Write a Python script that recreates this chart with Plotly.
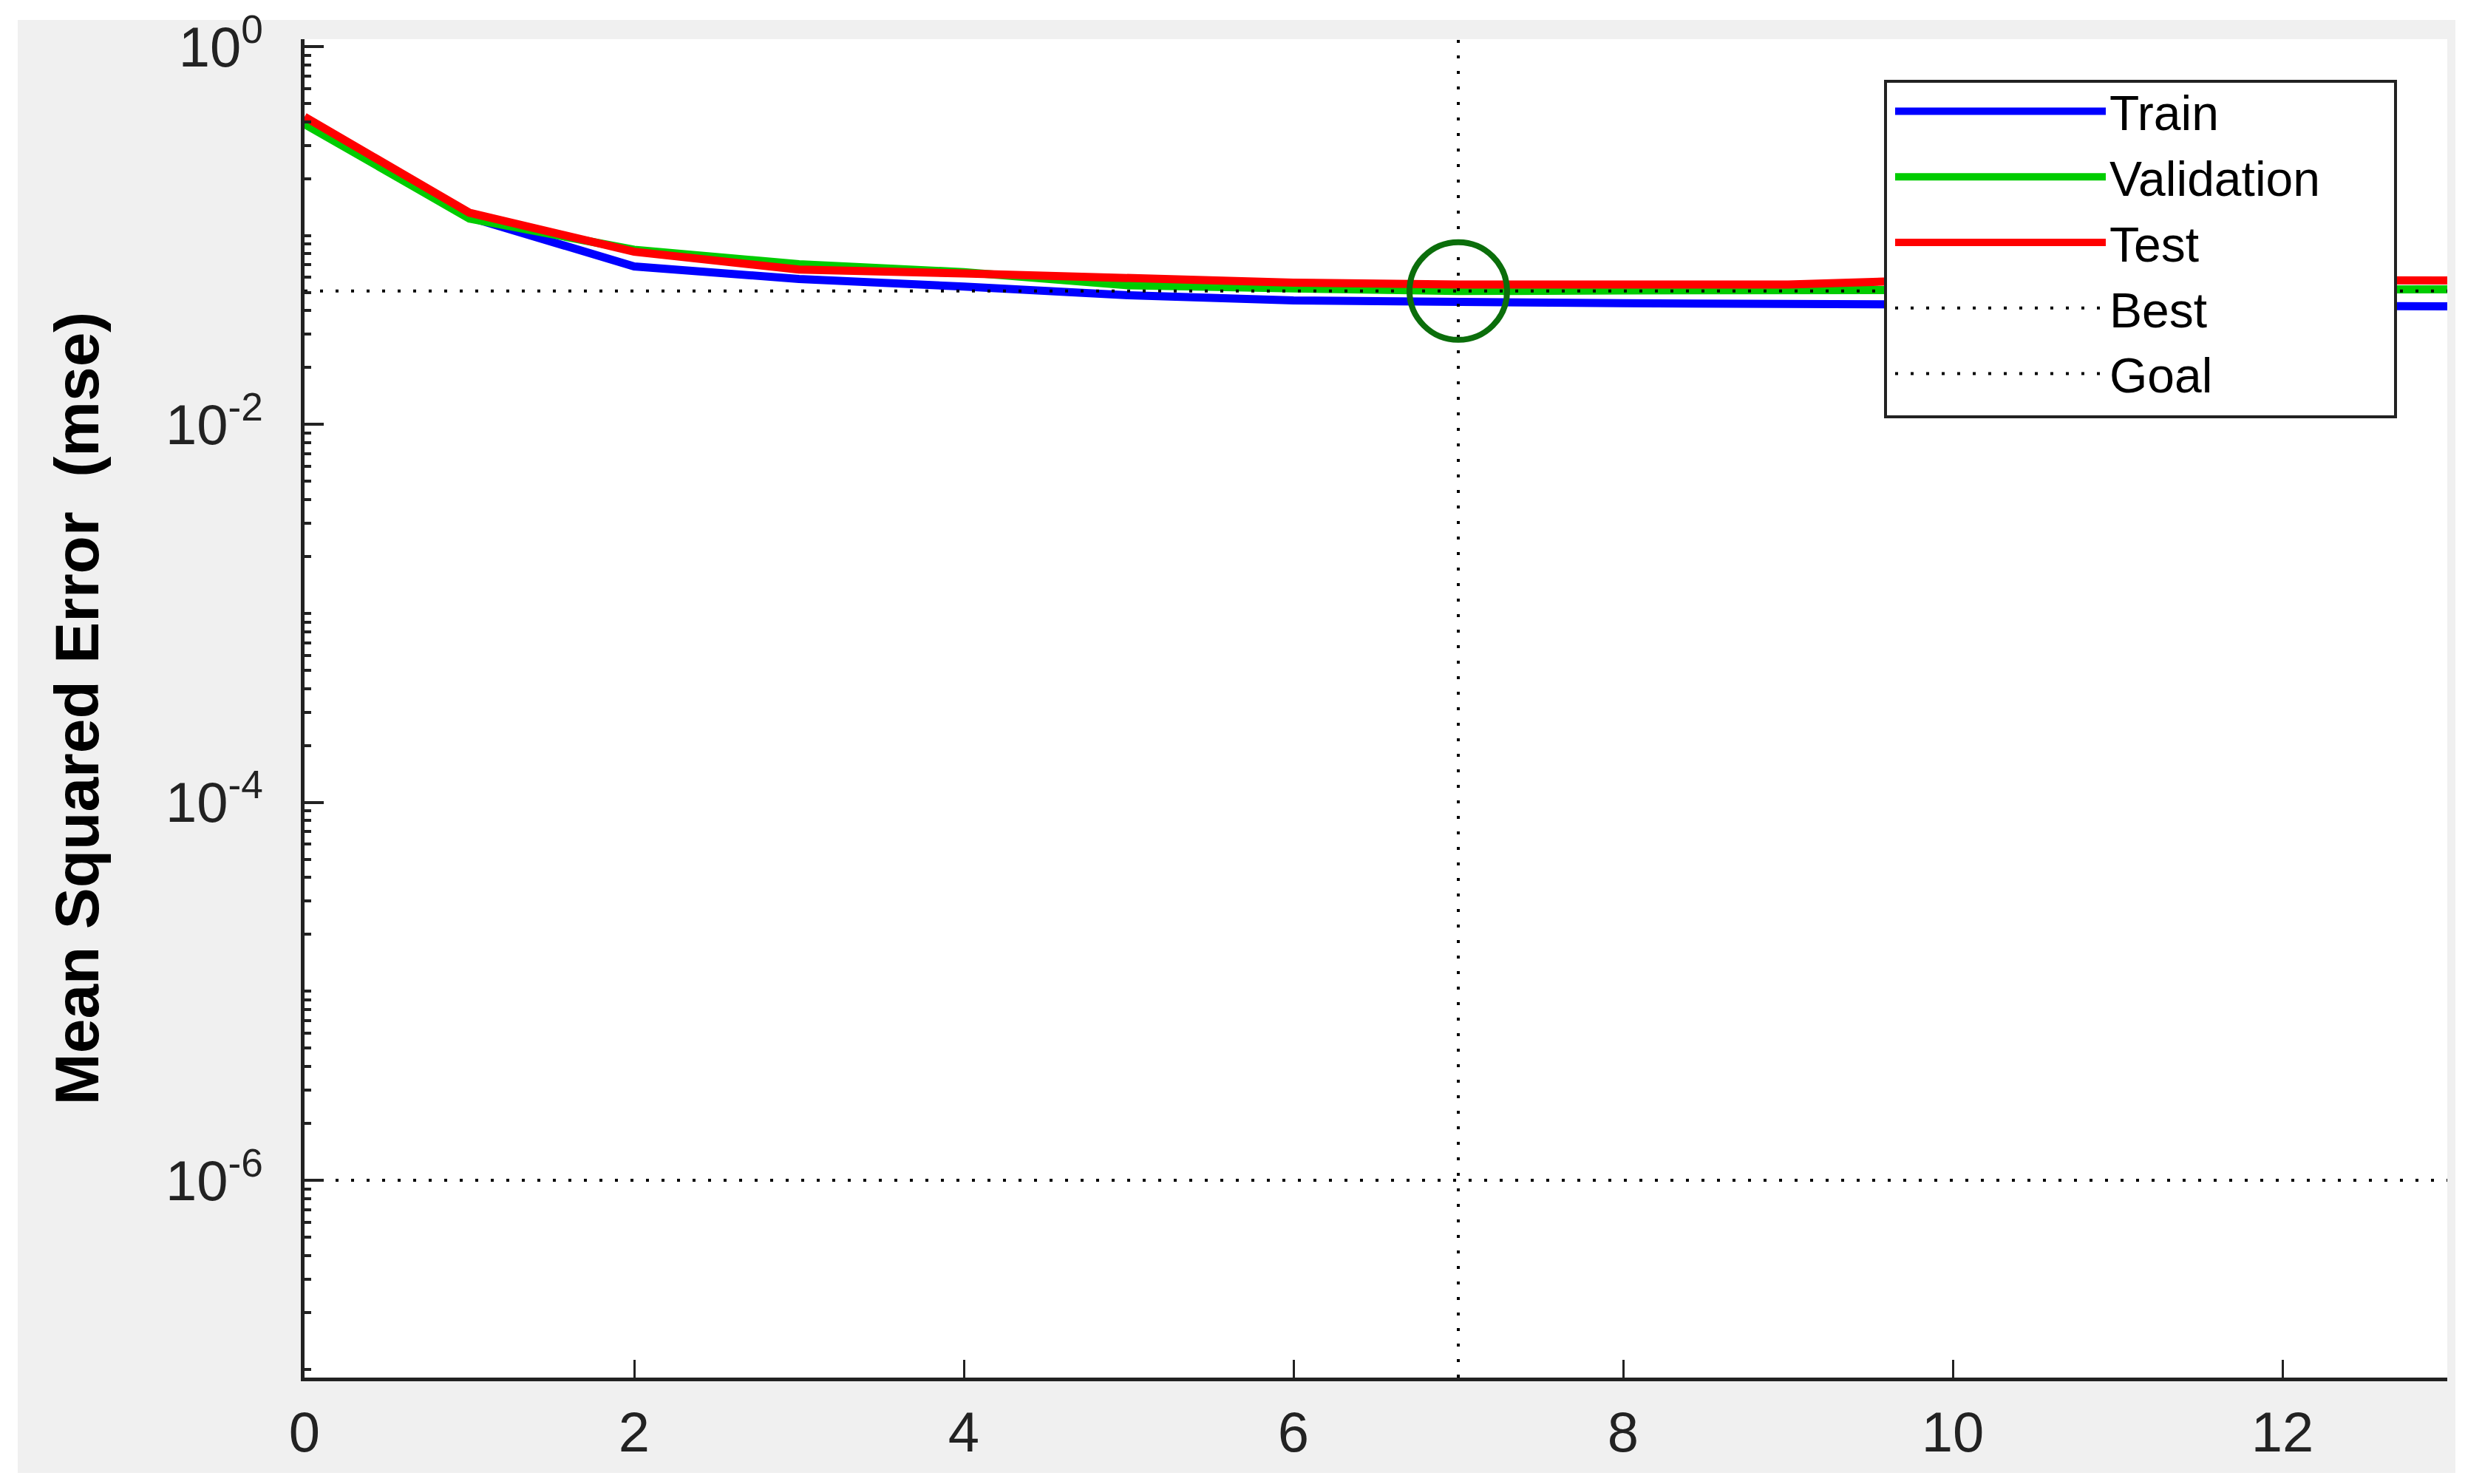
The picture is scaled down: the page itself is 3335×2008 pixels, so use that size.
import plotly.graph_objects as go

# ---------------- data ----------------
epochs = [0, 1, 2, 3, 4, 5, 6, 7, 8, 9, 10, 11, 12, 13]
train = [0.390, 0.125, 0.0686, 0.0589, 0.0537, 0.0483, 0.0453, 0.0442, 0.0438, 0.0434, 0.0430, 0.0426, 0.0425, 0.0422]
validation = [0.389, 0.123, 0.0840, 0.0705, 0.0640, 0.0545, 0.0525, 0.0508, 0.0512, 0.0514, 0.0518, 0.0516, 0.0518, 0.0519]
test = [0.425, 0.132, 0.0820, 0.0660, 0.0630, 0.0589, 0.0563, 0.0550, 0.0548, 0.0550, 0.0585, 0.0580, 0.0578, 0.0578]
goal = 1e-6
best_epoch = 7
best_val = validation[best_epoch]

x_ticks = [0, 2, 4, 6, 8, 10, 12]
y_major = [1e0, 1e-2, 1e-4, 1e-6]
y_major_text = ["10<sup>0</sup>", "10<sup>-2</sup>", "10<sup>-4</sup>", "10<sup>-6</sup>"]

# ---------------- geometry (pixels) ----------------
W, H = 3335, 2008
L, R, T, B = 404, 3303, 45, 1856
pw, ph = R - L, B - T


def px2x(p):
    return (p - L) / pw


def px2y(p):
    return (B - p) / ph


FONT = "Liberation Sans, Arial, sans-serif"
dot = "4px,17px"
LW = 11
Y_RANGE = [-7.044, 0.039]

fig = go.Figure()
fig.add_trace(go.Scatter(x=epochs, y=train, mode="lines", name="Train",
                         line=dict(color="#0000ff", width=LW)))
fig.add_trace(go.Scatter(x=epochs, y=validation, mode="lines", name="Validation",
                         line=dict(color="#00cc00", width=LW)))
fig.add_trace(go.Scatter(x=epochs, y=test, mode="lines", name="Test",
                         line=dict(color="#ff0000", width=LW)))
x_min, x_max = epochs[0], epochs[-1]
y_lo, y_hi = 10 ** Y_RANGE[0], 10 ** Y_RANGE[1]
fig.add_trace(go.Scatter(x=[best_epoch, best_epoch, None, x_min, x_max],
                         y=[y_lo, y_hi, None, best_val, best_val],
                         mode="lines", name="Best",
                         line=dict(color="black", width=4, dash=dot)))
fig.add_trace(go.Scatter(x=[x_min, x_max], y=[goal, goal], mode="lines", name="Goal",
                         line=dict(color="black", width=4, dash=dot)))
# best-point circle
fig.add_trace(go.Scatter(x=[best_epoch], y=[best_val], mode="markers", showlegend=False,
                         marker=dict(symbol="circle-open", size=132, color="#0b6e0b",
                                     line=dict(width=8, color="#0b6e0b"))))

# minor ticks on log axis
minor_vals = []
for e in range(-7, 0):
    for k in range(2, 10):
        minor_vals.append(k * 10 ** e)
for e in [-1, -3, -5, -7]:
    minor_vals.append(10 ** e)

shapes = [
    # grey figure background
    dict(type="rect", xref="paper", yref="paper", layer="below",
         x0=px2x(16), x1=px2x(3314), y0=px2y(1985), y1=px2y(19),
         fillcolor="#f0f0f0", line=dict(width=0)),
    # white axes area
    dict(type="rect", xref="paper", yref="paper", layer="below",
         x0=0, x1=1, y0=0, y1=1, fillcolor="white", line=dict(width=0)),
    # legend box
    dict(type="rect", xref="paper", yref="paper", layer="above",
         x0=px2x(2543), x1=px2x(3233), y0=px2y(556), y1=px2y(102),
         fillcolor="white", line=dict(color="#222222", width=4)),
]

fig.update_layout(
    width=W, height=H,
    margin=dict(l=L, r=W - R, t=T, b=H - B, pad=0, autoexpand=False),
    paper_bgcolor="white", plot_bgcolor="white",
    font=dict(family=FONT, color="black"),
    shapes=shapes,
    showlegend=True,
    legend=dict(x=px2x(2551), y=px2y(93), xanchor="left", yanchor="top",
                bgcolor="rgba(0,0,0,0)", borderwidth=0,
                font=dict(size=66, family=FONT, color="black"),
                itemwidth=285, tracegroupgap=0),
)

fig.update_xaxes(range=[x_min, x_max], tickvals=x_ticks, ticktext=[str(v) for v in x_ticks],
                 ticks="inside", ticklen=24, tickwidth=3, tickcolor="#222222",
                 showline=True, linecolor="#222222", linewidth=5, mirror=False,
                 showgrid=False, zeroline=False, automargin=False,
                 tickfont=dict(size=76, family=FONT, color="#222222"),
                 ticklabelstandoff=4)

fig.update_yaxes(type="log", range=Y_RANGE, tickvals=y_major, ticktext=y_major_text,
                 ticks="inside", ticklen=26, tickwidth=4, tickcolor="#222222",
                 minor=dict(tickvals=minor_vals, ticks="inside", ticklen=9, tickwidth=4,
                            tickcolor="#222222", showgrid=False),
                 showline=True, linecolor="#222222", linewidth=5, mirror=False,
                 showgrid=False, zeroline=False, automargin=False,
                 tickfont=dict(size=76, family=FONT, color="#222222"),
                 ticklabelstandoff=36,
                 title=dict(text="<b>Mean Squared Error  (mse)</b>",
                            font=dict(size=84, family=FONT, color="black"),
                            standoff=64))

fig.write_html("out.html")
